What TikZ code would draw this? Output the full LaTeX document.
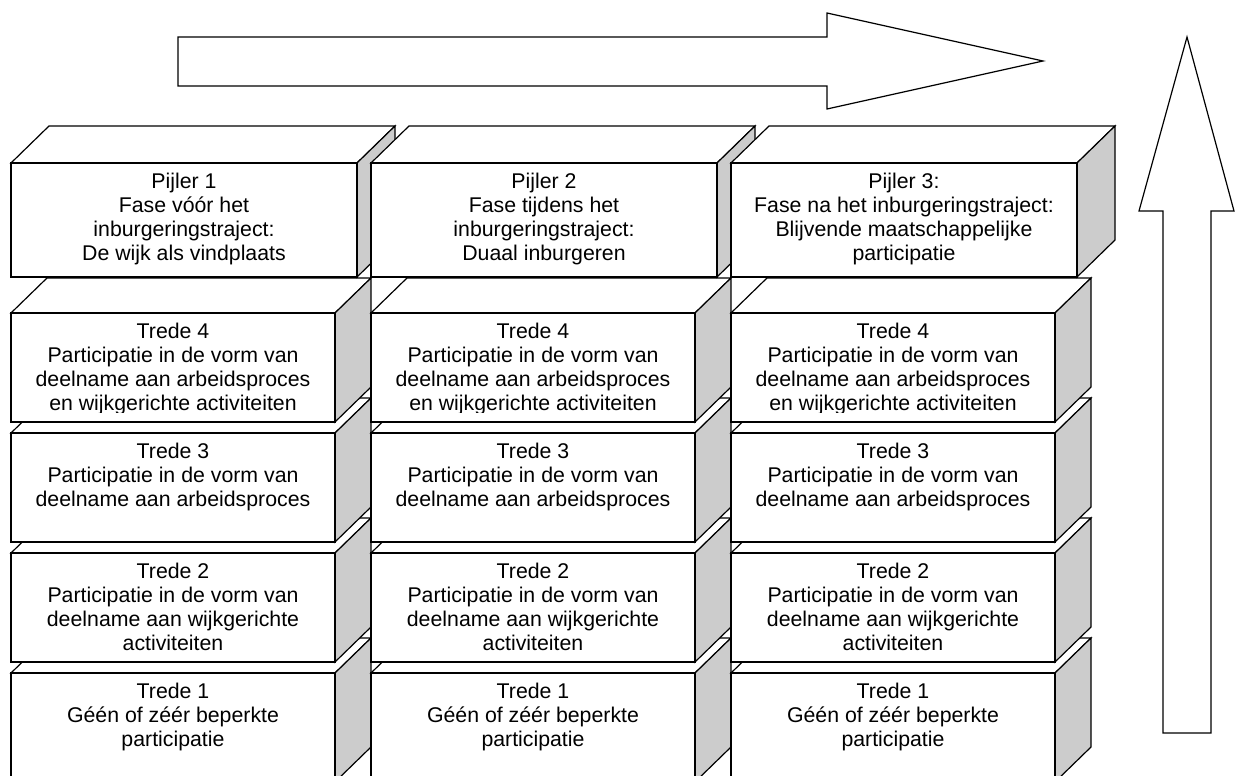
\documentclass[tikz,border=0pt]{standalone}
\usepackage{fontspec}
\setmainfont{Liberation Sans}
\definecolor{sidegray}{RGB}{204,204,204}
\tikzset{
  edge/.style={draw=black, line width=1.2pt, line join=miter},
  frontface/.style={edge, fill=white},
  topface/.style={edge, fill=white},
  sideface/.style={edge, fill=sidegray},
  txt/.style={font=\fontsize{21.3}{24}\selectfont, align=center, inner sep=0pt, anchor=north},
  bigarrow/.style={edge, fill=white}
}
% #1 name, #2 x1, #3 y1, #4 width, #5 height, #6 dx, #7 dy, #8 text
\newcommand{\blok}[8]{%
  \pgfmathsetmacro{\bxa}{#2}\pgfmathsetmacro{\bya}{#3}%
  \pgfmathsetmacro{\bxb}{#2+#4}\pgfmathsetmacro{\byb}{#3+#5}%
  \path[topface] (\bxa,\bya) -- ++(#6,-#7) -- (\bxb+#6,\bya-#7) -- (\bxb,\bya) -- cycle;
  \path[sideface] (\bxb,\bya) -- ++(#6,-#7) -- ++(0,#5) -- ++(-#6,#7) -- cycle;
  \path[frontface] (\bxa,\bya) rectangle (\bxb,\byb);
  \begin{scope}
    \clip (\bxa,\bya) rectangle (\bxb,\byb-10);
    \node[txt] (#1) at ({(\bxa+\bxb)/2},{\bya+10}) {#8};
  \end{scope}%
}
\begin{document}
\begin{tikzpicture}[x=1pt,y=-1pt]
\useasboundingbox (0,0) rectangle (1235,776);
\clip (0,0) rectangle (1235,776);
% horizontal arrow
\path[bigarrow] (178,37) -- (827,37) -- (827,13) -- (1043,61) -- (827,109) -- (827,86) -- (178,86) -- cycle;
% vertical arrow
\path[bigarrow] (1187,37) -- (1234,211) -- (1211,211) -- (1211,733) -- (1163,733) -- (1163,211) -- (1139,211) -- cycle;
% Trede 1
\blok{t1a}{11}{673}{324}{109}{36}{35}{Trede 1\\Géén of zéér beperkte\\participatie}
\blok{t1b}{371}{673}{324}{109}{36}{35}{Trede 1\\Géén of zéér beperkte\\participatie}
\blok{t1c}{731}{673}{324}{109}{36}{35}{Trede 1\\Géén of zéér beperkte\\participatie}
% Trede 2
\blok{t2a}{11}{553}{324}{109}{36}{35}{Trede 2\\Participatie in de vorm van\\deelname aan wijkgerichte\\activiteiten}
\blok{t2b}{371}{553}{324}{109}{36}{35}{Trede 2\\Participatie in de vorm van\\deelname aan wijkgerichte\\activiteiten}
\blok{t2c}{731}{553}{324}{109}{36}{35}{Trede 2\\Participatie in de vorm van\\deelname aan wijkgerichte\\activiteiten}
% Trede 3
\blok{t3a}{11}{433}{324}{109}{36}{35}{Trede 3\\Participatie in de vorm van\\deelname aan arbeidsproces}
\blok{t3b}{371}{433}{324}{109}{36}{35}{Trede 3\\Participatie in de vorm van\\deelname aan arbeidsproces}
\blok{t3c}{731}{433}{324}{109}{36}{35}{Trede 3\\Participatie in de vorm van\\deelname aan arbeidsproces}
% Trede 4
\blok{t4a}{11}{313}{324}{109}{36}{35}{Trede 4\\Participatie in de vorm van\\deelname aan arbeidsproces\\en wijkgerichte activiteiten}
\blok{t4b}{371}{313}{324}{109}{36}{35}{Trede 4\\Participatie in de vorm van\\deelname aan arbeidsproces\\en wijkgerichte activiteiten}
\blok{t4c}{731}{313}{324}{109}{36}{35}{Trede 4\\Participatie in de vorm van\\deelname aan arbeidsproces\\en wijkgerichte activiteiten}
% Pijlers
\blok{p1}{11}{163}{346}{114}{38}{37}{Pijler 1\\Fase vóór het\\inburgeringstraject:\\De wijk als vindplaats}
\blok{p2}{371}{163}{346}{114}{38}{37}{Pijler 2\\Fase tijdens het\\inburgeringstraject:\\Duaal inburgeren}
\blok{p3}{731}{163}{346}{114}{38}{37}{Pijler 3:\\Fase na het inburgeringstraject:\\Blijvende maatschappelijke\\participatie}
\end{tikzpicture}
\end{document}
